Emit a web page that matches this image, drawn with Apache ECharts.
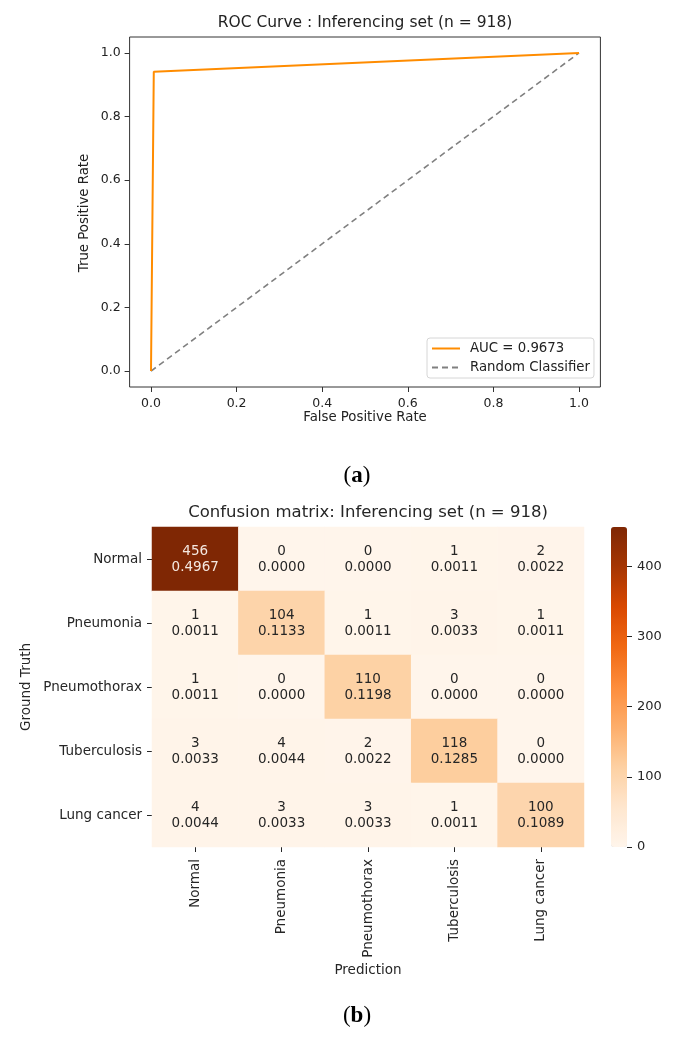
<!DOCTYPE html>
<html>
<head>
<meta charset="utf-8">
<script src="https://cdn.jsdelivr.net/npm/echarts@6/dist/echarts.min.js"></script>
<style>
html,body{margin:0;padding:0;background:#fff;}
#c{width:679px;height:1040px;}
</style>
</head>
<body>
<div id="c"></div>
<script>
// ROC data
const rocFpr = [0, 0.0065, 1];
const rocTpr = [0, 0.9411, 1];
const chanceFpr = [0, 1];
const chanceTpr = [0, 1];
const rocTicks = [0, 0.2, 0.4, 0.6, 0.8, 1.0];
const rocLegend = ['AUC = 0.9673', 'Random Classifier'];

// Confusion matrix data
const classes = ['Normal', 'Pneumonia', 'Pneumothorax', 'Tuberculosis', 'Lung cancer'];
const counts = [
  [456, 0, 0, 1, 2],
  [1, 104, 1, 3, 1],
  [1, 0, 110, 0, 0],
  [3, 4, 2, 118, 0],
  [4, 3, 3, 1, 100]
];
const shares = [
  ['0.4967', '0.0000', '0.0000', '0.0011', '0.0022'],
  ['0.0011', '0.1133', '0.0011', '0.0033', '0.0011'],
  ['0.0011', '0.0000', '0.1198', '0.0000', '0.0000'],
  ['0.0033', '0.0044', '0.0022', '0.1285', '0.0000'],
  ['0.0044', '0.0033', '0.0033', '0.0011', '0.1089']
];
const colorbarTicks = [0, 100, 200, 300, 400];
const colorMax = 456;

const FONT = 'DejaVu Sans';
const TXT = '#222';
const HTXT = '#262626';
const oranges = ['#fff5eb', '#fee6ce', '#fdd0a2', '#fdae6b', '#fd8d3c', '#f16913', '#d94801', '#a63603', '#7f2704'];

const heatData = [];
counts.forEach((row, r) => row.forEach((v, c) => {
  heatData.push({
    value: [c, r, v],
    label: { color: v > colorMax / 2 ? '#f5e8e0' : HTXT }
  });
}));

const chart = echarts.init(document.getElementById('c'), null, { renderer: 'canvas' });
const fmt1 = v => Number(v).toFixed(1);
const center = { textAlign: 'center', textVerticalAlign: 'middle', align: 'center', verticalAlign: 'middle' };

chart.setOption({
  backgroundColor: '#fff',
  animation: false,
  textStyle: { fontFamily: FONT },
  grid: [
    { left: 129.6, top: 37, width: 470.8, height: 350, show: true, borderColor: '#333', borderWidth: 1, backgroundColor: 'transparent' },
    { left: 152, top: 527, width: 432, height: 320 },
    { left: 611, top: 527, width: 16, height: 320 }
  ],
  xAxis: [
    {
      gridIndex: 0, type: 'value', min: -0.05, max: 1.05,
      axisLine: { show: false, onZero: false },
      splitLine: { show: false },
      axisTick: { show: true, inside: false, length: 5, lineStyle: { color: '#333' }, customValues: rocTicks },
      axisLabel: { fontSize: 12.5, color: TXT, margin: 10, fontFamily: FONT, customValues: rocTicks, formatter: fmt1 }
    },
    {
      gridIndex: 1, type: 'category', data: classes,
      axisLine: { show: false, onZero: false },
      axisTick: { show: true, alignWithLabel: true, length: 5, lineStyle: { color: HTXT } },
      axisLabel: { rotate: 90, fontSize: 13.5, color: HTXT, margin: 12, fontFamily: FONT, interval: 0 },
      splitLine: { show: false }
    },
    { gridIndex: 2, type: 'value', show: false, min: 0, max: 1 }
  ],
  yAxis: [
    {
      gridIndex: 0, type: 'value', min: -0.05, max: 1.05,
      axisLine: { show: false, onZero: false },
      splitLine: { show: false },
      axisTick: { show: true, inside: false, length: 5, lineStyle: { color: '#333' }, customValues: rocTicks },
      axisLabel: { fontSize: 12.5, color: TXT, margin: 9, fontFamily: FONT, customValues: rocTicks, formatter: fmt1 }
    },
    {
      gridIndex: 1, type: 'category', data: classes, inverse: true,
      axisLine: { show: false, onZero: false },
      axisTick: { show: true, alignWithLabel: true, length: 5, lineStyle: { color: HTXT } },
      axisLabel: { fontSize: 13.5, color: HTXT, margin: 10, fontFamily: FONT, interval: 0 },
      splitLine: { show: false }
    },
    {
      gridIndex: 2, type: 'value', position: 'right', min: 0, max: colorMax,
      axisLine: { show: false, onZero: false },
      splitLine: { show: false },
      axisTick: { show: true, length: 5, lineStyle: { color: HTXT }, customValues: colorbarTicks },
      axisLabel: { fontSize: 13, color: HTXT, margin: 10, fontFamily: FONT, customValues: colorbarTicks }
    }
  ],
  legend: {
    orient: 'vertical',
    left: 427, top: 338,
    padding: [4, 4, 4, 4],
    itemGap: 6,
    itemWidth: 28, itemHeight: 14,
    backgroundColor: 'rgba(255,255,255,0.8)',
    borderColor: '#d6d6d6', borderWidth: 1, borderRadius: 3,
    itemStyle: { opacity: 0 },
    textStyle: { fontSize: 13.3, color: TXT, fontFamily: FONT, padding: [0, 0, 0, 5] },
    data: rocLegend
  },
  visualMap: {
    type: 'continuous',
    min: 0, max: colorMax,
    seriesIndex: 2,
    left: 611, top: 527,
    itemWidth: 16, itemHeight: 320,
    padding: 0,
    calculable: false,
    hoverLink: false,
    inRange: { color: oranges },
    textStyle: { fontSize: 0 }
  },
  series: [
    {
      name: rocLegend[0], type: 'line', xAxisIndex: 0, yAxisIndex: 0,
      data: rocFpr.map((x, i) => [x, rocTpr[i]]),
      showSymbol: false, symbol: 'none',
      lineStyle: { color: '#ff8c00', width: 2 },
      itemStyle: { color: '#ff8c00' },
      z: 3
    },
    {
      name: rocLegend[1], type: 'line', xAxisIndex: 0, yAxisIndex: 0,
      data: chanceFpr.map((x, i) => [x, chanceTpr[i]]),
      showSymbol: false, symbol: 'none',
      lineStyle: { color: '#808080', width: 1.6, type: [6, 4] },
      itemStyle: { color: '#808080' },
      z: 2
    },
    {
      type: 'heatmap', xAxisIndex: 1, yAxisIndex: 1,
      data: heatData,
      label: {
        show: true, fontSize: 13.5, lineHeight: 16, fontFamily: FONT,
        formatter: p => counts[p.value[1]][p.value[0]] + '\n' + shares[p.value[1]][p.value[0]]
      },
      emphasis: { disabled: true }
    },
    {
      type: 'scatter', xAxisIndex: 2, yAxisIndex: 2, data: [], silent: true
    }
  ],
  graphic: [
    { type: 'text', x: 365, y: 23, style: Object.assign({ text: 'ROC Curve : Inferencing set (n = 918)', fontSize: 15.5, fontFamily: FONT, fill: TXT }, center) },
    { type: 'text', x: 365, y: 418, style: Object.assign({ text: 'False Positive Rate', fontSize: 13.3, fontFamily: FONT, fill: TXT }, center) },
    { type: 'text', x: 85, y: 213, rotation: Math.PI / 2, style: Object.assign({ text: 'True Positive Rate', fontSize: 13.3, fontFamily: FONT, fill: TXT }, center) },
    { type: 'text', x: 357, y: 476, style: Object.assign({ text: '{p|(}{b|a}{p|)}', rich: { p: { fontSize: 23, fontFamily: 'Liberation Serif', fill: '#000' }, b: { fontSize: 23, fontFamily: 'Liberation Serif', fontWeight: 'bold', fill: '#000' } } }, center) },
    { type: 'text', x: 368, y: 513, style: Object.assign({ text: 'Confusion matrix: Inferencing set (n = 918)', fontSize: 16.5, fontFamily: FONT, fill: HTXT }, center) },
    { type: 'text', x: 368, y: 970, style: Object.assign({ text: 'Prediction', fontSize: 13.5, fontFamily: FONT, fill: HTXT }, center) },
    { type: 'text', x: 26, y: 687, rotation: Math.PI / 2, style: Object.assign({ text: 'Ground Truth', fontSize: 13.5, fontFamily: FONT, fill: HTXT }, center) },
    { type: 'text', x: 357, y: 1016, style: Object.assign({ text: '{p|(}{b|b}{p|)}', rich: { p: { fontSize: 23, fontFamily: 'Liberation Serif', fill: '#000' }, b: { fontSize: 23, fontFamily: 'Liberation Serif', fontWeight: 'bold', fill: '#000' } } }, center) }
  ]
});
</script>
</body>
</html>
